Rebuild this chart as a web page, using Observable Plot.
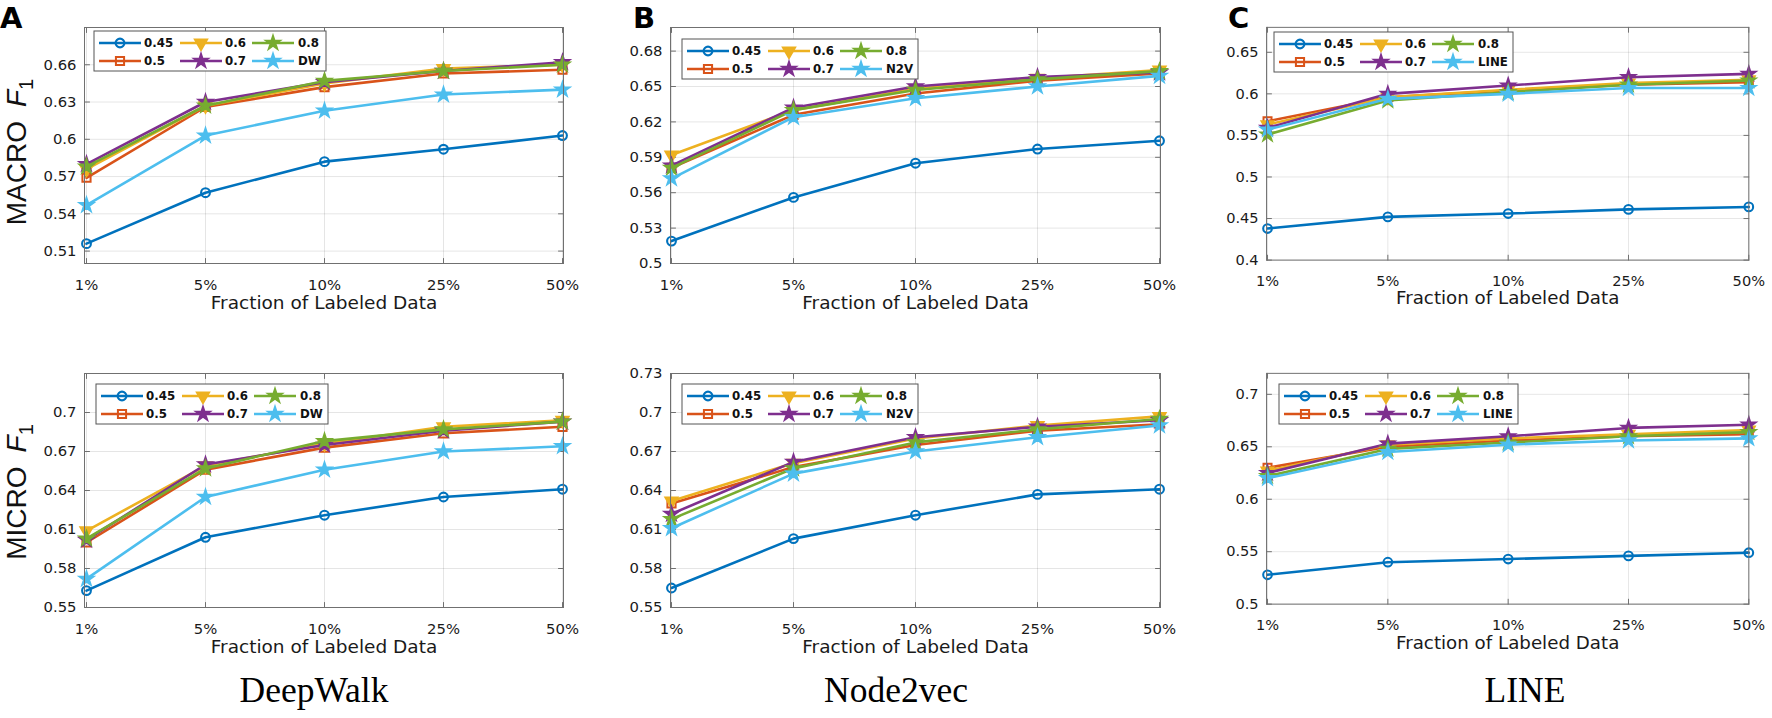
<!DOCTYPE html>
<html><head><meta charset="utf-8">
<script src="https://cdn.jsdelivr.net/npm/d3@7"></script>
<script src="https://cdn.jsdelivr.net/npm/@observablehq/plot@0.6"></script>
<style>
html,body{margin:0;padding:0;background:#fff}
body{width:1772px;height:718px;position:relative;overflow:hidden;font-family:"DejaVu Sans",sans-serif}
.panel{position:absolute}
#overlay{position:absolute;left:0;top:0;pointer-events:none}
</style></head><body>
<script>
// ---------- data ----------
const fractions = ["1%", "5%", "10%", "25%", "50%"];
const seriesNames = ["0.45", "0.5", "0.6", "0.7", "0.8"];
const baselineNames = ["DW", "N2V", "LINE"];
const methodNames = ["DeepWalk", "Node2vec", "LINE"];
const metricNames = ["MACRO", "MICRO"];

// rows: 0.45, 0.5, 0.6, 0.7, 0.8, baseline
const macroDeepWalk = [
  [0.516, 0.557, 0.582, 0.592, 0.603],
  [0.569, 0.626, 0.642, 0.653, 0.656],
  [0.576, 0.627, 0.645, 0.657, 0.660],
  [0.580, 0.630, 0.646, 0.655, 0.662],
  [0.578, 0.627, 0.647, 0.655, 0.660],
  [0.547, 0.603, 0.623, 0.636, 0.640]
];
const macroNode2vec = [
  [0.519, 0.556, 0.585, 0.597, 0.604],
  [0.581, 0.626, 0.644, 0.655, 0.661],
  [0.592, 0.630, 0.648, 0.657, 0.664],
  [0.583, 0.632, 0.650, 0.658, 0.662],
  [0.581, 0.630, 0.647, 0.656, 0.663],
  [0.572, 0.624, 0.640, 0.650, 0.659]
];
const macroLINE = [
  [0.438, 0.452, 0.456, 0.461, 0.464],
  [0.567, 0.596, 0.604, 0.611, 0.614],
  [0.563, 0.596, 0.605, 0.613, 0.617],
  [0.559, 0.600, 0.610, 0.620, 0.624],
  [0.551, 0.592, 0.602, 0.611, 0.616],
  [0.557, 0.594, 0.600, 0.607, 0.607]
];
const microDeepWalk = [
  [0.563, 0.604, 0.621, 0.635, 0.641],
  [0.600, 0.656, 0.673, 0.684, 0.689],
  [0.609, 0.659, 0.676, 0.689, 0.694],
  [0.602, 0.660, 0.675, 0.686, 0.693],
  [0.603, 0.657, 0.678, 0.687, 0.693],
  [0.572, 0.635, 0.656, 0.670, 0.674]
];
const microNode2vec = [
  [0.565, 0.603, 0.621, 0.637, 0.641],
  [0.630, 0.658, 0.675, 0.686, 0.691],
  [0.632, 0.661, 0.680, 0.690, 0.697],
  [0.622, 0.662, 0.681, 0.689, 0.694],
  [0.618, 0.657, 0.677, 0.687, 0.695],
  [0.611, 0.653, 0.670, 0.681, 0.690]
];
const microLINE = [
  [0.528, 0.540, 0.543, 0.546, 0.549],
  [0.630, 0.650, 0.656, 0.660, 0.662],
  [0.627, 0.652, 0.658, 0.662, 0.666],
  [0.625, 0.653, 0.660, 0.668, 0.671],
  [0.622, 0.648, 0.654, 0.660, 0.664],
  [0.620, 0.645, 0.652, 0.656, 0.658]
];

const yTicksMacroDeepWalk = [0.51, 0.54, 0.57, 0.6, 0.63, 0.66];
const yTicksMacroNode2vec = [0.5, 0.53, 0.56, 0.59, 0.62, 0.65, 0.68];
const yTicksMacroLINE = [0.4, 0.45, 0.5, 0.55, 0.6, 0.65];
const yTicksMicroDeepWalk = [0.55, 0.58, 0.61, 0.64, 0.67, 0.7];
const yTicksMicroNode2vec = [0.55, 0.58, 0.61, 0.64, 0.67, 0.7, 0.73];
const yTicksMicroLINE = [0.5, 0.55, 0.6, 0.65, 0.7];

// ---------- style ----------
const sans = "'DejaVu Sans', 'Liberation Sans', sans-serif";
const colors = ["#0072BD", "#D95319", "#EDB120", "#7E2F8E", "#77AC30", "#4DBEEE"];
const triangleDown = {
  draw(ctx, size) {
    const a = Math.sqrt(size * 4 / Math.sqrt(3));
    const h = a * Math.sqrt(3) / 2;
    ctx.moveTo(0, 2 * h / 3);
    ctx.lineTo(-a / 2, -h / 3);
    ctx.lineTo(a / 2, -h / 3);
    ctx.closePath();
  }
};
const symbols = [d3.symbolCircle, d3.symbolSquare, triangleDown, d3.symbolStar, d3.symbolStar, d3.symbolStar];
const filled = [false, false, true, true, true, true];
const radii = [4.4, 4.6, 4.7, 4.5, 4.5, 4.5];
const markerStroke = [2.1, 2.0, 1.7, 1.7, 1.7, 1.7];
const frameColor = "#707070";
const fmt = d => String(+d.toFixed(2));

const tickShape = {draw(ctx, l) { ctx.moveTo(0, 0); ctx.lineTo(0, -l); }};

const cols = [{left: 84, right: 563}, {left: 670, right: 1160}, {left: 1267, right: 1756}];
const rowsGeo = [{top: 27, bottom: 263}, {top: 373, bottom: 607}];

const panels = [
  {row: 0, col: 0, rows: macroDeepWalk, domain: [0.5, 0.69], ticks: yTicksMacroDeepWalk, legend: [94, 31]},
  {row: 0, col: 1, rows: macroNode2vec, domain: [0.5, 0.70], ticks: yTicksMacroNode2vec, legend: [682, 39]},
  {row: 0, col: 2, rows: macroLINE, domain: [0.4, 0.68], ticks: yTicksMacroLINE, legend: [1274, 32]},
  {row: 1, col: 0, rows: microDeepWalk, domain: [0.55, 0.73], ticks: yTicksMicroDeepWalk, legend: [96, 384]},
  {row: 1, col: 1, rows: microNode2vec, domain: [0.55, 0.73], ticks: yTicksMicroNode2vec, legend: [682, 384]},
  {row: 1, col: 2, rows: microLINE, domain: [0.5, 0.72], ticks: yTicksMicroLINE, legend: [1279, 384]}
];

function tickVectors(ticks) {
  try {
    return [
      Plot.vector(ticks, {y: d => d, frameAnchor: "left", rotate: 90, length: 5, anchor: "start", shape: tickShape, stroke: frameColor, strokeWidth: 1}),
      Plot.vector(ticks, {y: d => d, frameAnchor: "right", rotate: -90, length: 5, anchor: "start", shape: tickShape, stroke: frameColor, strokeWidth: 1}),
      Plot.vector(fractions, {x: d => d, frameAnchor: "bottom", rotate: 0, length: 5, anchor: "start", shape: tickShape, stroke: frameColor, strokeWidth: 1}),
      Plot.vector(fractions, {x: d => d, frameAnchor: "top", rotate: 180, length: 5, anchor: "start", shape: tickShape, stroke: frameColor, strokeWidth: 1})
    ];
  } catch (e) { return []; }
}

const mL = 70, mR = 24, mT = 10, mB = 64;
for (const p of panels) {
  const g = cols[p.col], r = rowsGeo[p.row];
  const marks = [
    Plot.gridX(fractions, {stroke: "#000", strokeOpacity: 0.1, strokeWidth: 1}),
    Plot.gridY(p.ticks, {stroke: "#000", strokeOpacity: 0.1, strokeWidth: 1}),
    Plot.axisX(fractions, {tickSize: 0, tickPadding: 16, label: null, fontSize: 14.8}),
    Plot.axisY(p.ticks, {tickSize: 0, tickPadding: 8, tickFormat: fmt, label: null, fontSize: 14.8}),
    Plot.text(["Fraction of Labeled Data"], {frameAnchor: "bottom", dy: 45, text: d => d, fontSize: 18.5}),
    ...tickVectors(p.ticks)
  ];
  p.rows.forEach((vals, i) => {
    const pts = vals.map((v, j) => ({x: fractions[j], y: v}));
    marks.push(Plot.line(pts, {x: "x", y: "y", stroke: colors[i], strokeWidth: 2.6}));
    marks.push(Plot.dot(pts, {x: "x", y: "y", symbol: symbols[i], r: radii[i], stroke: colors[i],
      fill: filled[i] ? colors[i] : "none", strokeWidth: markerStroke[i]}));
  });
  marks.push(Plot.frame({stroke: frameColor, strokeWidth: 1}));
  const chart = Plot.plot({
    width: g.right - g.left + mL + mR,
    height: r.bottom - r.top + mT + mB,
    marginLeft: mL, marginRight: mR, marginTop: mT, marginBottom: mB,
    x: {type: "point", domain: fractions, padding: 0},
    y: {domain: p.domain},
    style: {fontFamily: sans, fontSize: "15px", color: "#1a1a1a", background: "transparent", overflow: "visible"},
    marks
  });
  const div = document.createElement("div");
  div.className = "panel";
  div.style.left = (g.left - mL) + "px";
  div.style.top = (r.top - mT) + "px";
  div.appendChild(chart);
  document.body.appendChild(div);
}

// ---------- overlay: legends, labels ----------
const svg = d3.select(document.body).append("svg").attr("id", "overlay")
  .attr("width", 1772).attr("height", 718);

const colLine = [[5, 47], [86, 128], [158, 200]];
const colLabel = [50, 131, 204];
const rowY = [12, 30];
panels.forEach(p => {
  const [lx, ly] = p.legend;
  const g = svg.append("g").attr("transform", `translate(${lx},${ly})`);
  const box = g.append("rect").attr("x", 0).attr("y", 0).attr("height", 40).attr("fill", "#fff")
    .attr("stroke", "#555").attr("stroke-width", 1);
  const labels = seriesNames.concat([baselineNames[p.col]]);
  let maxEnd = 0;
  labels.forEach((name, i) => {
    const c = Math.floor(i / 2), rr = i % 2;
    const y = rowY[rr];
    g.append("line").attr("x1", colLine[c][0]).attr("x2", colLine[c][1]).attr("y1", y).attr("y2", y)
      .attr("stroke", colors[i]).attr("stroke-width", 2.6);
    const cx = (colLine[c][0] + colLine[c][1]) / 2;
    g.append("path").attr("d", d3.symbol().type(symbols[i]).size(Math.PI * radii[i] * radii[i])())
      .attr("transform", `translate(${cx},${y})`)
      .attr("stroke", colors[i]).attr("stroke-width", markerStroke[i]).attr("fill", filled[i] ? colors[i] : "none");
    const t = g.append("text").attr("x", colLabel[c]).attr("y", y).attr("dy", "0.37em")
      .attr("font-size", 11.8).attr("font-weight", "bold").attr("fill", "#111")
      .attr("font-family", sans).text(name);
    maxEnd = Math.max(maxEnd, colLabel[c] + t.node().getComputedTextLength());
  });
  box.attr("width", Math.round(maxEnd + 5));
});

// y labels
[[152, 0], [492, 1]].forEach(([cy, k]) => {
  const t = svg.append("text").attr("transform", `translate(26,${cy}) rotate(-90)`)
    .attr("text-anchor", "middle").attr("font-size", 28).attr("fill", "#111")
    .attr("font-family", "'Liberation Sans', Arial, sans-serif");
  t.append("tspan").text(metricNames[k]);
  t.append("tspan").attr("dx", 14).attr("font-style", "italic").text("F");
  t.append("tspan").attr("dy", 7).attr("font-size", 20).text("1");
});

// panel letters
[["A", 0], ["B", 633], ["C", 1228]].forEach(([s, x]) => {
  svg.append("text").attr("x", x).attr("y", 28).attr("font-size", 29).attr("font-weight", "bold")
    .attr("fill", "#000").attr("font-family", sans).text(s);
});

// method names
[314, 896, 1525].forEach((x, i) => {
  svg.append("text").attr("x", x).attr("y", 702).attr("text-anchor", "middle")
    .attr("font-size", 35.5).attr("fill", "#000")
    .attr("font-family", "'Liberation Serif', 'Times New Roman', serif").text(methodNames[i]);
});
</script>
</body></html>
